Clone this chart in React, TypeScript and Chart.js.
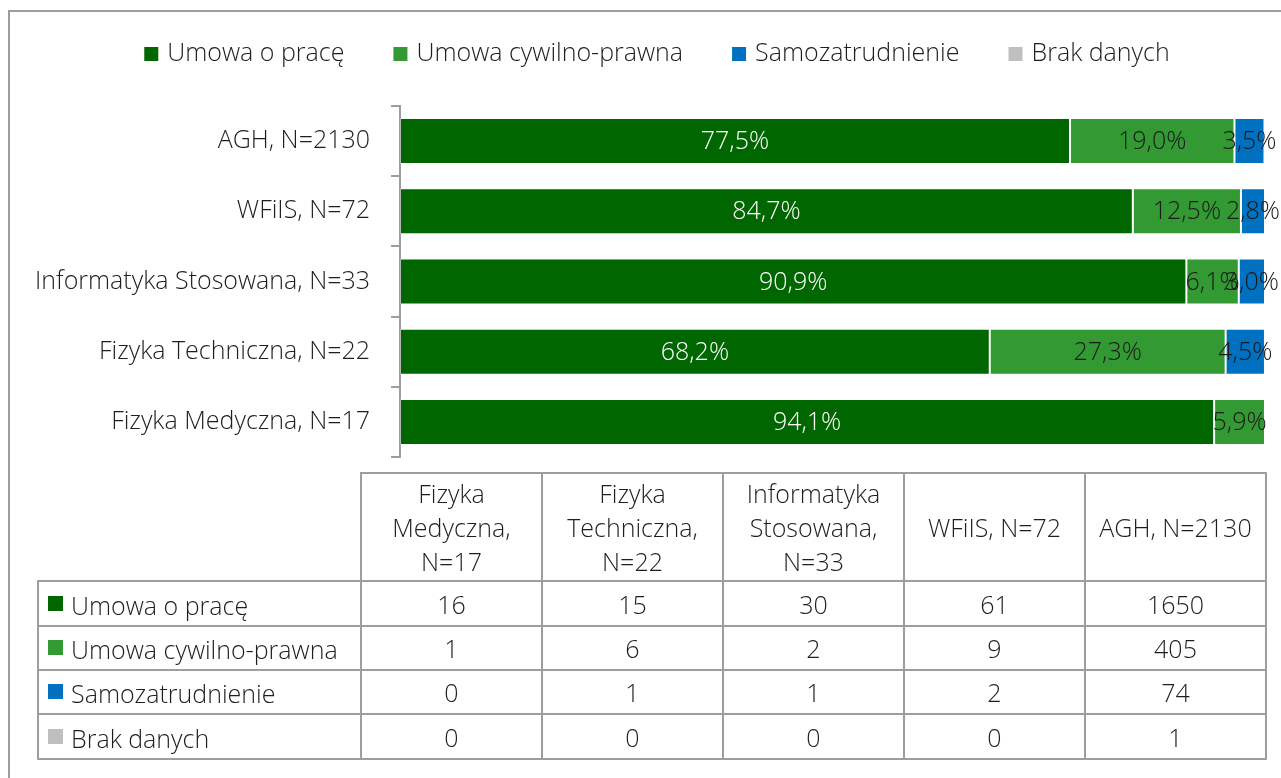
import React, { useEffect, useRef } from 'react';
import { Chart, registerables } from 'chart.js';

Chart.register(...registerables);

// ---- Data ----
const categories = [
  'AGH, N=2130',
  'WFiIS, N=72',
  'Informatyka Stosowana, N=33',
  'Fizyka Techniczna, N=22',
  'Fizyka Medyczna, N=17',
];
const seriesNames = ['Umowa o pracę', 'Umowa cywilno-prawna', 'Samozatrudnienie', 'Brak danych'];
const seriesColors = ['#006600', '#339933', '#0070C0', '#BFBFBF'];
const labelColors = ['#ffffff', '#1a1a1a', '#1a1a1a', '#1a1a1a'];

// percentages (bar lengths), order as categories
const umowaOPracePct = [77.46, 84.72, 90.91, 68.18, 94.12];
const cywilnoPrawnaPct = [19.01, 12.5, 6.06, 27.27, 5.88];
const samozatrudnieniePct = [3.47, 2.78, 3.03, 4.545, 0];
const brakDanychPct = [0.05, 0, 0, 0, 0];

// table (columns in table order)
const tableHeaders = [
  ['Fizyka', 'Medyczna,', 'N=17'],
  ['Fizyka', 'Techniczna,', 'N=22'],
  ['Informatyka', 'Stosowana,', 'N=33'],
  ['WFiIS, N=72'],
  ['AGH, N=2130'],
];
const umowaOPraceCount = [16, 15, 30, 61, 1650];
const cywilnoPrawnaCount = [1, 6, 2, 9, 405];
const samozatrudnienieCount = [0, 1, 1, 2, 74];
const brakDanychCount = [0, 0, 0, 0, 1];

const FONT = '"Open Sans", "Noto Sans", sans-serif';
const WEIGHT = 300;
const SIZE = 25;
const TEXT = '#1e1e1e';
const LINE = '#9e9e9e';

const pctSeries = [umowaOPracePct, cywilnoPrawnaPct, samozatrudnieniePct, brakDanychPct];
const countSeries = [umowaOPraceCount, cywilnoPrawnaCount, samozatrudnienieCount, brakDanychCount];

const labelsPlugin = {
  id: 'segLabels',
  afterDatasetsDraw(chart: any) {
    const ctx = chart.ctx;
    ctx.save();
    ctx.font = `${WEIGHT} ${SIZE}px ${FONT}`;
    ctx.textAlign = 'center';
    ctx.textBaseline = 'middle';
    chart.data.datasets.forEach((ds: any, di: number) => {
      const meta = chart.getDatasetMeta(di);
      meta.data.forEach((bar: any, i: number) => {
        const v = ds.data[i];
        if (v < 0.5) return;
        const props = bar.getProps(['x', 'y', 'base'], true);
        const cx = (props.x + props.base) / 2;
        ctx.fillStyle = labelColors[di];
        ctx.fillText(v.toFixed(1).replace('.', ',') + '%', cx, props.y + 1);
      });
    });
    ctx.restore();
  },
};

const legendPlugin = {
  id: 'customLegend',
  afterDraw(chart: any) {
    const ctx = chart.ctx;
    ctx.save();
    ctx.font = `${WEIGHT} ${SIZE}px ${FONT}`;
    const box = 14;
    const gap = 9;
    const spacing = 49;
    const widths = seriesNames.map((n) => box + gap + ctx.measureText(n).width);
    const total = widths.reduce((a, b) => a + b, 0) + spacing * (seriesNames.length - 1);
    let x = 657 - total / 2;
    const baseline = 61;
    ctx.textBaseline = 'alphabetic';
    ctx.textAlign = 'left';
    seriesNames.forEach((n, i) => {
      ctx.fillStyle = seriesColors[i];
      ctx.fillRect(x, baseline - box, box, box);
      ctx.fillStyle = TEXT;
      ctx.fillText(n, x + box + gap, baseline);
      x += widths[i] + spacing;
    });
    ctx.restore();
  },
};

function ChartCanvas() {
  const ref = useRef<HTMLCanvasElement | null>(null);
  useEffect(() => {
    if (!ref.current) return;
    const chart = new Chart(ref.current, {
      type: 'bar',
      data: {
        labels: categories,
        datasets: seriesNames.map((name, i) => ({
          label: name,
          data: pctSeries[i],
          backgroundColor: seriesColors[i],
          borderColor: 'rgba(255,255,255,0.25)',
          borderWidth: 1,
          borderSkipped: false,
          barPercentage: 0.655,
          categoryPercentage: 1,
        })),
      },
      options: {
        indexAxis: 'y',
        responsive: false,
        animation: false,
        devicePixelRatio: 1,
        layout: { padding: { top: 106, bottom: 37, right: 16, left: 0 } },
        plugins: { legend: { display: false }, tooltip: { enabled: false }, title: { display: false } },
        scales: {
          x: { stacked: true, display: false, min: 0, max: 100 },
          y: {
            stacked: true,
            grid: { drawOnChartArea: false, drawTicks: true, tickLength: 9, color: LINE, lineWidth: 2, offset: true },
            border: { display: true, color: LINE, width: 2 },
            ticks: { font: { family: FONT, size: SIZE, weight: WEIGHT }, color: TEXT, padding: 21 },
            afterFit: (s: any) => {
              s.width = 400;
            },
          },
        },
      },
      plugins: [labelsPlugin, legendPlugin],
    } as any);
    return () => chart.destroy();
  }, []);
  return (
    <canvas
      ref={ref}
      width={1281}
      height={494}
      style={{ position: 'absolute', left: 0, top: 0, width: 1281, height: 494 }}
    />
  );
}

function DataTable() {
  const border = `2px solid ${LINE}`;
  const cell: React.CSSProperties = {
    border,
    padding: 0,
    textAlign: 'center',
    verticalAlign: 'middle',
    fontWeight: WEIGHT,
  };
  const rowHeights = [45, 44, 44, 45];
  return (
    <table
      style={{
        position: 'absolute',
        left: 37,
        top: 472,
        borderCollapse: 'collapse',
        tableLayout: 'fixed',
        fontFamily: FONT,
        fontSize: SIZE,
        fontWeight: WEIGHT,
        color: TEXT,
        width: 1228,
      }}
    >
      <colgroup>
        <col style={{ width: 323 }} />
        {tableHeaders.map((_, i) => (
          <col key={i} style={{ width: 181 }} />
        ))}
      </colgroup>
      <thead>
        <tr style={{ height: 108 }}>
          <th style={{ ...cell, border: 'none', borderRight: border, borderBottom: border }} />
          {tableHeaders.map((lines, i) => (
            <th key={i} style={{ ...cell, lineHeight: '34px' }}>
              {lines.map((l, j) => (
                <div key={j}>{l}</div>
              ))}
            </th>
          ))}
        </tr>
      </thead>
      <tbody>
        {seriesNames.map((name, r) => (
          <tr key={r} style={{ height: rowHeights[r] }}>
            <td style={{ ...cell, textAlign: 'left', paddingLeft: 9, whiteSpace: 'nowrap' }}>
              <span
                style={{
                  display: 'inline-block',
                  width: 15,
                  height: 15,
                  background: seriesColors[r],
                  marginRight: 8,
                  verticalAlign: 'middle',
                  position: 'relative',
                  top: -2,
                }}
              />
              <span style={{ verticalAlign: 'middle' }}>{name}</span>
            </td>
            {countSeries[r].map((v, c) => (
              <td key={c} style={{ ...cell, lineHeight: '30px' }}>
                {v}
              </td>
            ))}
          </tr>
        ))}
      </tbody>
    </table>
  );
}

export default function App() {
  return (
    <div
      style={{
        position: 'absolute',
        left: 0,
        top: 0,
        width: 1281,
        height: 778,
        overflow: 'hidden',
        background: '#ffffff',
      }}
    >
      <div
        style={{
          position: 'absolute',
          left: 8,
          top: 10,
          width: 1400,
          height: 900,
          border: `2px solid ${LINE}`,
          boxSizing: 'border-box',
        }}
      />
      <ChartCanvas />
      <DataTable />
    </div>
  );
}
